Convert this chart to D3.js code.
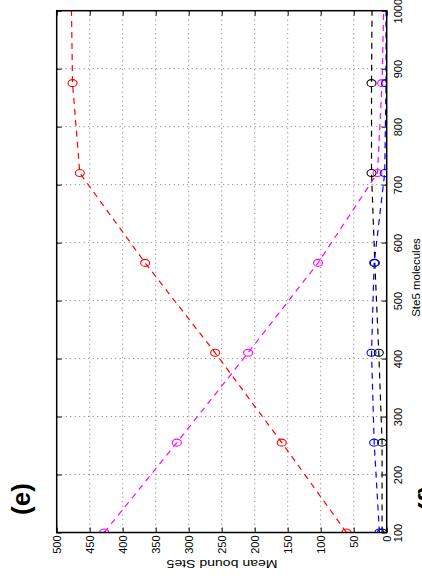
<!DOCTYPE html>
<html>
<head>
<meta charset="utf-8">
<script src="https://cdn.jsdelivr.net/npm/d3@7"></script>
<style>
  html, body { margin: 0; padding: 0; background: #fff; }
  svg { display: block; font-family: "Liberation Sans", Arial, Helvetica, sans-serif; }
</style>
</head>
<body>
<svg id="chart" width="422" height="585"></svg>
<script>
// Ste5 molecule counts (last point lies beyond the axis limit and is clipped)
const ste5Molecules = [100, 255, 410, 565, 720, 875, 1030];

// Mean bound Ste5 per series, one array per line colour
const seriesRed     = [61, 159, 260, 366, 465, 476, 478];
const seriesMagenta = [428, 318, 210, 104, 14, 7, 4];
const seriesBlack   = [7, 7, 12, 18, 23, 23, 22];
const seriesBlue    = [11, 19, 23, 19, 3, 1, 1];

// Tick values
const moleculeTicks = [100, 200, 300, 400, 500, 600, 700, 800, 900, 1000];
const boundTicks = [0, 50, 100, 150, 200, 250, 300, 350, 400, 450, 500];

const series = [
  { values: seriesRed, color: "#ff0000" },
  { values: seriesMagenta, color: "#ff00ff" },
  { values: seriesBlack, color: "#000000" },
  { values: seriesBlue, color: "#0000ff" }
];

const svg = d3.select("#chart");
svg.append("rect").attr("width", 422).attr("height", 585).attr("fill", "#fff");

// Page is turned a quarter turn: molecules run bottom-to-top, bound Ste5 runs right-to-left
const plot = { left: 56.7, right: 386.7, top: 10.7, bottom: 532.5 };
const yMol = d3.scaleLinear().domain([100, 1000]).range([plot.bottom, plot.top]);
const xBound = d3.scaleLinear().domain([0, 500]).range([plot.right, plot.left]);
const intFmt = d3.format("d");

svg.append("defs").append("clipPath").attr("id", "plot-clip")
  .append("rect")
  .attr("x", plot.left).attr("y", plot.top)
  .attr("width", plot.right - plot.left).attr("height", plot.bottom - plot.top);

// Dotted grid
const grid = svg.append("g").attr("stroke", "#7a7a7a").attr("stroke-width", 1)
  .attr("stroke-dasharray", "1,3.5");
grid.selectAll("line.gv").data(boundTicks.filter(t => t > 0 && t < 500)).join("line")
  .attr("class", "gv")
  .attr("x1", d => xBound(d)).attr("x2", d => xBound(d))
  .attr("y1", plot.top).attr("y2", plot.bottom);
grid.selectAll("line.gh").data(moleculeTicks.filter(t => t > 100 && t < 1000)).join("line")
  .attr("class", "gh")
  .attr("y1", d => yMol(d)).attr("y2", d => yMol(d))
  .attr("x1", plot.left).attr("x2", plot.right);

// Series lines and circle markers
const line = d3.line().x(d => xBound(d.v)).y(d => yMol(d.m));
const marks = svg.append("g").attr("clip-path", "url(#plot-clip)");
series.forEach(s => {
  const pts = ste5Molecules.map((m, i) => ({ m, v: s.values[i] }));
  marks.append("path").datum(pts)
    .attr("d", line)
    .attr("fill", "none")
    .attr("stroke", s.color)
    .attr("stroke-width", 1.2)
    .attr("stroke-dasharray", "6,5");
  marks.selectAll(null).data(pts).join("ellipse")
    .attr("cx", d => xBound(d.v)).attr("cy", d => yMol(d.m))
    .attr("rx", 4.5).attr("ry", 3.5)
    .attr("fill", "none").attr("stroke", s.color).attr("stroke-width", 1.1);
});

// Axes with inward ticks
const axisStyle = g => {
  g.select(".domain").remove();
  g.selectAll(".tick line").attr("stroke", "#000").attr("stroke-width", 1);
  g.selectAll(".tick text").attr("fill", "#000").style("font-size", "11px");
};

// Molecule axis on the right, labels turned to read bottom-to-top
svg.append("g")
  .attr("transform", `translate(${plot.right},0)`)
  .call(d3.axisRight(yMol).tickValues(moleculeTicks).tickFormat(intFmt).tickSizeInner(-5).tickSizeOuter(0))
  .call(axisStyle)
  .call(g => g.selectAll(".tick text")
    .attr("x", null).attr("dy", null)
    .attr("text-anchor", "middle")
    .attr("transform", "translate(15.3,0) rotate(-90)"));

// Mirror ticks on the left edge
svg.append("g")
  .attr("transform", `translate(${plot.left},0)`)
  .call(d3.axisLeft(yMol).tickValues(moleculeTicks).tickSizeInner(-5).tickSizeOuter(0).tickFormat(""))
  .call(axisStyle);

// Bound axis along the bottom, labels turned
svg.append("g")
  .attr("transform", `translate(0,${plot.bottom})`)
  .call(d3.axisBottom(xBound).tickValues(boundTicks).tickFormat(intFmt).tickSizeInner(-5).tickSizeOuter(0))
  .call(axisStyle)
  .call(g => g.selectAll(".tick text")
    .attr("y", null).attr("dy", "0.35em")
    .attr("text-anchor", "end")
    .attr("transform", "translate(0,3) rotate(-90)"));

// Mirror ticks on the top edge
svg.append("g")
  .attr("transform", `translate(0,${plot.top})`)
  .call(d3.axisTop(xBound).tickValues(boundTicks).tickSizeInner(-5).tickSizeOuter(0).tickFormat(""))
  .call(axisStyle);

// Frame
svg.append("rect")
  .attr("x", plot.left).attr("y", plot.top)
  .attr("width", plot.right - plot.left).attr("height", plot.bottom - plot.top)
  .attr("fill", "none").attr("stroke", "#000").attr("stroke-width", 1.5);

// Axis titles
svg.append("text")
  .attr("transform", "translate(222,560) rotate(180)")
  .attr("text-anchor", "middle")
  .attr("textLength", 111).attr("lengthAdjust", "spacingAndGlyphs")
  .style("font-size", "11.5px")
  .text("Mean bound Ste5");

svg.append("text")
  .attr("transform", "translate(420,277.5) rotate(-90)")
  .attr("text-anchor", "middle")
  .style("font-size", "11.5px")
  .text("Ste5 molecules");

// Panel letters
svg.append("text")
  .attr("transform", "translate(29.5,499) rotate(-90)")
  .attr("text-anchor", "middle")
  .style("font-size", "26px").style("font-weight", "bold")
  .text("(e)");

svg.append("text")
  .attr("transform", "translate(437,498) rotate(-90)")
  .attr("text-anchor", "middle")
  .style("font-size", "26px").style("font-weight", "bold")
  .text("(f)");
</script>
</body>
</html>
